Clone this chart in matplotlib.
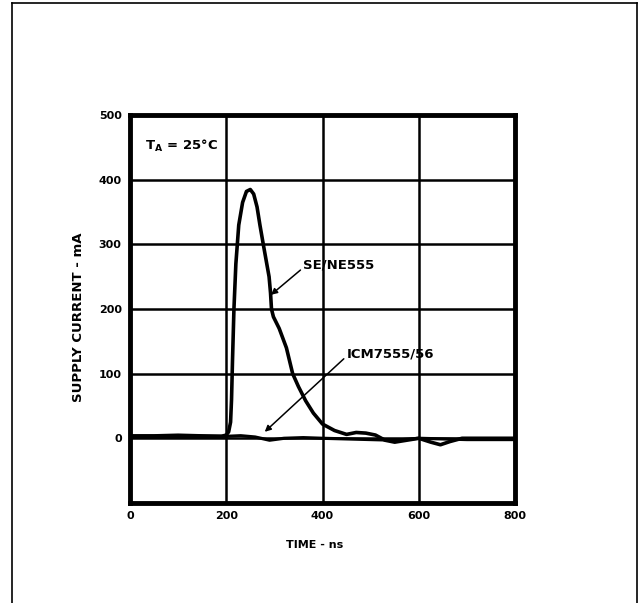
import numpy as np
import matplotlib
matplotlib.use("Agg")
import matplotlib.pyplot as plt
from matplotlib.lines import Line2D

# SE/NE555 supply current spike (ns, mA)
t_555 = [0, 100, 190, 200, 205, 209, 211, 213, 216, 220, 226, 234, 242, 250, 257, 264,
         270, 277, 283, 289, 292, 294, 298, 310, 325, 338, 350, 365, 381, 400, 425,
         450, 470, 490, 510, 530, 550, 575, 600, 625, 645, 665, 690, 800]
i_555 = [3, 3, 3, 5, 10, 25, 60, 120, 200, 270, 330, 365, 382, 385, 378, 358,
         330, 300, 275, 250, 225, 200, 188, 170, 140, 100, 80, 58, 39, 22, 12,
         6, 9, 8, 5, -3, -6, -3, 0, -6, -10, -5, 0, 0]

# ICM7555/56 stays near zero
t_icm = [0, 50, 100, 150, 200, 230, 260, 290, 320, 360, 400, 450, 500, 550, 600, 650, 700, 750, 800]
i_icm = [4, 4, 5, 4, 3, 4, 2, -3, 0, 1, 0, -1, -2, -3, 0, -1, -2, -2, -2]

x_ticks = [0, 200, 400, 600, 800]
y_ticks = [-100, 0, 100, 200, 300, 400, 500]
y_labels = ["", "0", "100", "200", "300", "400", "500"]

plt.rcParams['font.family'] = ['DejaVu Sans']
plt.rcParams['font.weight'] = 'bold'

fig = plt.figure(figsize=(6.39, 6.03), dpi=100)
ax = fig.add_axes([0.2034, 0.166, 0.6026, 0.643])

ax.plot(t_icm, i_icm, color='black', lw=2.3, solid_capstyle='round')
ax.plot(t_555, i_555, color='black', lw=2.6, solid_joinstyle='round')

ax.set_xlim(0, 800)
ax.set_ylim(-100, 500)
ax.set_xticks(x_ticks)
ax.set_yticks(y_ticks)
ax.set_yticklabels(y_labels)
ax.grid(True, color='black', lw=1.8)
ax.tick_params(length=0, labelsize=8, pad=6)
for lbl in ax.get_xticklabels() + ax.get_yticklabels():
    lbl.set_fontweight('bold')
for s in ax.spines.values():
    s.set_linewidth(3.5)

ax.set_xlabel("TIME - ns", fontsize=8, fontweight='bold')
ax.xaxis.set_label_coords(0.48, -0.095)
ax.set_ylabel("SUPPLY CURRENT - mA", fontsize=9.5, fontweight='bold')
ax.yaxis.set_label_coords(-0.117, 0.48)

ax.text(32, 453, r"T$_\mathregular{A}$ = 25°C", fontsize=9.5, fontweight='bold', va='center')

arrow = dict(arrowstyle='-|>', color='black', lw=1.1, mutation_scale=9,
             shrinkA=0, shrinkB=0, relpos=(0, 0.3))
ax.annotate("SE/NE555", xy=(293, 222), xytext=(360, 268), fontsize=9.5, fontweight='bold',
            va='center', ha='left', arrowprops=arrow)
ax.annotate("ICM7555/56", xy=(280, 10), xytext=(450, 131), fontsize=9.5, fontweight='bold',
            va='center', ha='left', arrowprops=arrow)

# scanned page border (left, top, right)
fig.add_artist(Line2D([0.018, 0.018], [0.0, 0.995], color='black', lw=1.2, transform=fig.transFigure))
fig.add_artist(Line2D([0.018, 0.997], [0.995, 0.995], color='black', lw=1.2, transform=fig.transFigure))
fig.add_artist(Line2D([0.997, 0.997], [0.0, 0.995], color='black', lw=1.2, transform=fig.transFigure))

fig.savefig("out.png", dpi=100)
